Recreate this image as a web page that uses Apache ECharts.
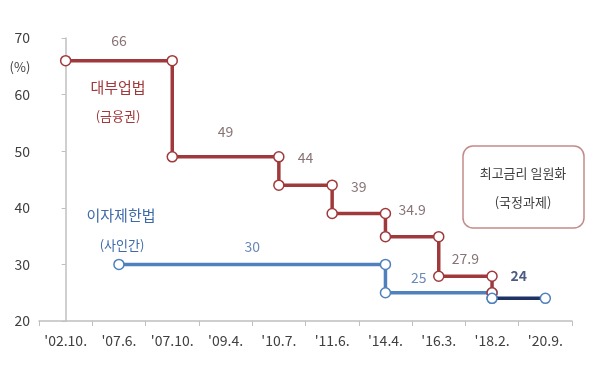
<!DOCTYPE html>
<html><head><meta charset="utf-8">
<script src="https://cdn.jsdelivr.net/npm/echarts@6/dist/echarts.min.js"></script>
<style>html,body{margin:0;padding:0;background:#fff}#c{width:595px;height:382px}</style>
</head><body><div id="c"></div>
<script>
// ---- data ----
const categories = ["'02.10.", "'07.6.", "'07.10.", "'09.4.", "'10.7.", "'11.6.", "'14.4.", "'16.3.", "'18.2.", "'20.9."];
const loanLawDates = ["'02.10.", "'07.10.", "'10.7.", "'11.6.", "'14.4.", "'16.3.", "'18.2."];
const loanLawRates = [66, 49, 44, 39, 34.9, 27.9];
const interestLawDates = ["'07.6.", "'14.4.", "'18.2."];
const interestLawRates = [30, 25];
const unifiedDates = ["'18.2.", "'20.9."];
const unifiedRates = [24];
const yMin = 20, yMax = 70, yStep = 10;

// ---- styles (not data) ----
const RED = '#A0393B', BLUE = '#4F81BD', NAVY = '#1F3264';
const loanLabelLift = [13, 18, 20, 20, 20, 11];
const interestLabelLift = [11, 8];
const interestLabelShift = [0, -20];
const unifiedLabelLift = [16];
const FONT = '"Noto Sans CJK KR", "Noto Sans", sans-serif';

const idx = d => categories.indexOf(d);
function corners(dates, rates, endRate) {
  const pts = [];
  rates.forEach((r, i) => { pts.push([idx(dates[i]), r]); pts.push([idx(dates[i + 1]), r]); });
  if (endRate !== undefined) pts.push([idx(dates[dates.length - 1]), endRate]);
  return pts;
}
function mids(dates, rates, lifts, color, bold, shifts) {
  return rates.map((r, i) => ({
    value: [(idx(dates[i]) + idx(dates[i + 1])) / 2, r],
    label: { show: true, position: 'top', distance: lifts[i], color: color,
      fontWeight: bold ? 'bold' : 'normal', fontSize: 14, fontFamily: FONT,
      offset: shifts ? [shifts[i], 0] : [0, 0], formatter: String(r) }
  }));
}
function lineSeries(data, color, markerColor, z) {
  return { type: 'line', xAxisIndex: 1, data: data, z: z, symbol: 'circle', symbolSize: 10,
    showAllSymbol: true, animation: false,
    lineStyle: { color: color, width: 3.5 },
    itemStyle: { color: '#fff', borderColor: markerColor, borderWidth: 1.5 } };
}

const chart = echarts.init(document.getElementById('c'), null, { renderer: 'canvas' });
chart.setOption({
  animation: false,
  grid: { left: 39, right: 23, top: 38, bottom: 61 },
  xAxis: [
    { type: 'category', data: categories, boundaryGap: true,
      axisLine: { lineStyle: { color: '#BFBFBF', width: 1.5 } },
      axisTick: { show: true, length: 5, lineStyle: { color: '#BFBFBF' } },
      axisLabel: { color: '#404040', fontSize: 14, margin: 13, fontFamily: FONT, interval: 0 } },
    { type: 'value', min: -0.5, max: categories.length - 0.5, show: false }
  ],
  yAxis: { type: 'value', min: yMin, max: yMax, interval: yStep,
    axisLine: { show: true, lineStyle: { color: '#BFBFBF', width: 1.5 } },
    axisTick: { show: true, length: 4, lineStyle: { color: '#BFBFBF' } },
    splitLine: { show: false },
    axisLabel: { color: '#404040', fontSize: 14, margin: 9, fontFamily: FONT } },
  series: [
    lineSeries(corners(loanLawDates, loanLawRates, interestLawRates[interestLawRates.length - 1]), RED, RED, 3),
    lineSeries(corners(interestLawDates, interestLawRates, unifiedRates[0]), BLUE, BLUE, 2),
    lineSeries(corners(unifiedDates, unifiedRates), NAVY, BLUE, 4),
    { type: 'scatter', xAxisIndex: 1, symbolSize: 0, silent: true, z: 5,
      data: mids(loanLawDates, loanLawRates, loanLabelLift, '#6A5053', false) },
    { type: 'scatter', xAxisIndex: 1, symbolSize: 0, silent: true, z: 5,
      data: mids(interestLawDates, interestLawRates, interestLabelLift, '#426CA8', false, interestLabelShift) },
    { type: 'scatter', xAxisIndex: 1, symbolSize: 0, silent: true, z: 5,
      data: mids(unifiedDates, unifiedRates, unifiedLabelLift, NAVY, true) }
  ],
  graphic: [
    { type: 'text', x: 20, y: 67, style: { text: '(%)', fill: '#404040', font: '13px ' + FONT, align: 'center', verticalAlign: 'middle' } },
    { type: 'text', x: 118, y: 87, style: { text: '대부업법', fill: RED, font: '15px ' + FONT, align: 'center', verticalAlign: 'middle' } },
    { type: 'text', x: 118, y: 116, style: { text: '(금융권)', fill: RED, font: '13px ' + FONT, align: 'center', verticalAlign: 'middle' } },
    { type: 'text', x: 121, y: 215, style: { text: '이자제한법', fill: '#3E6BA8', font: '15px ' + FONT, align: 'center', verticalAlign: 'middle' } },
    { type: 'text', x: 122, y: 245, style: { text: '(사인간)', fill: '#3E6BA8', font: '13px ' + FONT, align: 'center', verticalAlign: 'middle' } },
    { type: 'rect', shape: { x: 463, y: 146, width: 121, height: 82, r: 10 },
      style: { fill: '#fff', stroke: '#C48A89', lineWidth: 1.5 } },
    { type: 'text', x: 523, y: 173, style: { text: '최고금리 일원화', fill: '#404040', font: '13px ' + FONT, align: 'center', verticalAlign: 'middle' } },
    { type: 'text', x: 523, y: 202, style: { text: '(국정과제)', fill: '#404040', font: '13px ' + FONT, align: 'center', verticalAlign: 'middle' } }
  ]
});
</script></body></html>
